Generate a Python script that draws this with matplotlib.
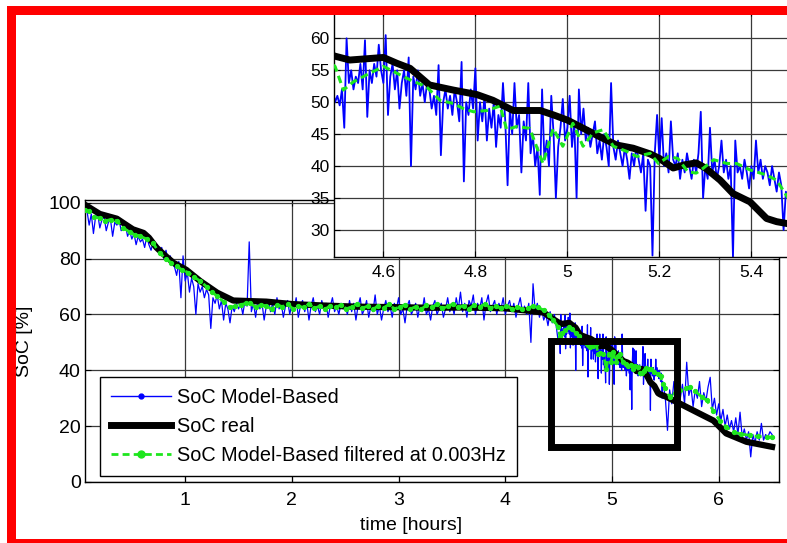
import numpy as np
import matplotlib
matplotlib.use('Agg')
import matplotlib.pyplot as plt
from matplotlib.lines import Line2D
from matplotlib.patches import Rectangle

plt.rcParams['font.family'] = ['Liberation Sans', 'DejaVu Sans']

# ---------------- data ----------------
# SoC real (black, thick)
t_real = [0.06, 0.2, 0.36, 0.45, 0.51, 0.61, 0.66, 0.73, 0.8, 0.89, 1.01, 1.14, 1.3, 1.45,
          1.6, 1.76, 2.01, 2.3, 2.6, 3.0, 3.3, 3.6, 3.9, 4.0, 4.23, 4.36, 4.45, 4.495, 4.527,
          4.564, 4.6, 4.629, 4.658, 4.70, 4.752, 4.803, 4.838, 4.882, 4.941, 4.97, 5.0, 5.035,
          5.07, 5.107, 5.143, 5.18, 5.2, 5.23, 5.255, 5.28, 5.30, 5.332, 5.36, 5.397, 5.433,
          5.455, 5.478, 5.51, 5.64, 5.82, 5.95, 6.07, 6.26, 6.5]
soc_real = [99.3, 96, 94.3, 92, 90.5, 89.2, 87.5, 84, 81.5, 78.5, 76, 72, 67.8, 65,
            64.8, 64.6, 63.7, 63.2, 62.8, 62.6, 62.4, 62.5, 62.3, 62.2, 61.3, 60.7, 58.3, 57.2, 56.6,
            56.8, 57.0, 56.1, 55.3, 52.7, 51.9, 51.2, 50.3, 48.7, 48.7, 48.0, 47.2, 45.9,
            44.6, 43.3, 42.8, 41.9, 41.2, 39.7, 40.2, 40.5, 39.7, 37.8, 35.7, 34.4, 31.8,
            31.3, 31.0, 30.5, 28, 24.5, 22, 17.4, 14.4, 12.6]

# SoC model-based filtered at 0.003 Hz (green)
t_filt = [0.06, 0.10, 0.15, 0.20, 0.25, 0.30, 0.36, 0.42, 0.48, 0.53, 0.58, 0.64, 0.70, 0.76,
          0.82, 0.87, 0.92, 0.97, 1.03, 1.08, 1.14, 1.20, 1.25, 1.30, 1.36, 1.42, 1.47, 1.52,
          1.57, 1.61, 1.66, 1.71, 1.76, 1.81, 1.86, 1.91, 1.96, 2.01, 2.06, 2.11, 2.16, 2.21,
          2.26, 2.31, 2.36, 2.41, 2.46, 2.51, 2.56, 2.61, 2.66, 2.71, 2.76, 2.81, 2.86, 2.91,
          2.96, 3.01, 3.06, 3.11, 3.16, 3.21, 3.26, 3.31, 3.36, 3.41, 3.46, 3.51, 3.56, 3.61,
          3.66, 3.71, 3.76, 3.81, 3.86, 3.91, 3.96, 4.01, 4.06, 4.11, 4.16, 4.21, 4.26, 4.31,
          4.36, 4.41, 4.45,
          4.495, 4.513, 4.535, 4.564, 4.600, 4.622, 4.658, 4.694, 4.723, 4.752, 4.774, 4.796,
          4.825, 4.854, 4.868, 4.890, 4.918, 4.947, 4.969, 4.990, 5.012, 5.034, 5.056, 5.078,
          5.100, 5.129, 5.151, 5.180, 5.198, 5.220, 5.240, 5.262, 5.280, 5.296, 5.318, 5.347,
          5.368, 5.397, 5.433, 5.455, 5.478,
          5.50, 5.54, 5.59, 5.64, 5.69, 5.73, 5.78, 5.84, 5.89, 5.95, 6.01, 6.07, 6.14, 6.21,
          6.29, 6.37, 6.45, 6.50]
soc_filt = [97.5, 96.9, 95, 94.5, 93.5, 94, 93.5, 91, 89.5, 88.5, 88, 87, 85.5, 82,
            80, 78.5, 77.3, 76, 75, 73.5, 72, 70, 68, 66.6, 64.5, 62.5, 63, 63.5,
            64, 64.2, 62.5, 63.5, 63, 62, 63.5, 62.8, 63.8, 62, 63, 62.5, 63.8, 62.2,
            63, 61.8, 63.2, 62.5, 63.5, 62, 62.8, 63.8, 62.3, 63, 61.8, 63.2, 62.4, 63.6,
            62, 62.7, 63.5, 62, 62.8, 61.8, 63.3, 62.5, 63.6, 62.2, 62.9, 63.8, 62.5, 63.2,
            62, 63.5, 62.6, 63.9, 62.3, 63, 62.2, 63.2, 62, 62.8, 61.8, 62.2, 63, 62.5,
            61.5, 59.8, 58,
            55.6, 51.9, 53.2, 54.3, 55.6, 54.8, 53.5, 52.4, 50.3, 49.8, 49.0, 48.5,
            48.7, 49.4, 45.7, 46.2, 45.9, 40.4, 45.9, 43.1, 46.7, 43.1, 45.2, 45.7,
            43.1, 42.3, 41.5, 42.0, 40.4, 41.5, 41.2, 39.1, 38.9, 39.7, 41.0, 40.4,
            40.4, 39.4, 38.6, 37.8, 35.2,
            33.5, 30.5, 32, 32.8, 33.5, 34, 32.5, 30.5, 29.2, 25.5, 22, 19.8, 17.9, 17.2,
            16.7, 16.3, 16.1, 16]

# SoC model-based (blue, noisy) -- three sampled stretches
soc_model_a = [  # 0.06 .. 4.48 h, every 0.02 h
    98, 97, 92, 96, 89, 95, 96, 91, 94, 95, 90, 93, 94, 88, 93, 92, 94, 90, 91, 92, 88, 90,
    87, 89, 85, 88, 86, 87, 84, 88, 85, 83, 86, 84, 85, 82, 84, 80, 83, 79, 81, 78,
    77, 74, 79, 66, 81, 72, 75, 68, 73, 70, 60, 71, 68, 70, 66, 69, 67, 55, 66, 64,
    67, 62, 65, 58, 64, 62, 57, 63, 61, 64,
    62, 64, 60, 65, 63, 86, 61, 64, 59, 65, 62, 64, 58, 63, 65, 61, 64, 60, 66, 62,
    64, 59, 63, 65, 60, 64, 62, 66, 59, 63, 65, 61, 64, 58, 63, 66, 61, 63, 60, 65,
    62, 64, 59, 63, 66, 61, 63, 60, 64, 62,
    63, 60, 65, 61, 64, 58, 63, 66, 60, 62, 65, 59, 63, 61, 67, 60, 63, 58, 62, 65,
    61, 63, 59, 64, 62, 66, 60, 62, 57, 63, 65, 60, 62, 64, 59, 63, 61, 66, 60, 62,
    58, 63, 65, 60, 62, 64, 59, 62, 66, 61,
    64, 60, 66, 62, 68, 61, 64, 59, 65, 63, 67, 60, 64, 62, 66, 58, 64, 67, 61, 63,
    65, 60, 64, 62, 66, 60, 63, 65, 61, 64, 59, 63, 66, 61, 63, 60, 64, 50, 71, 61,
    64, 59, 62, 58, 60, 56, 61, 57, 60, 55]
soc_model_b = [  # 4.490 .. 5.485 h, every 0.005 h
    52, 50, 51, 49.5, 52, 46, 60, 53, 55, 52,
    54, 53, 56, 52, 59.7, 47.7, 55, 53, 56, 54,
    59, 55, 53, 60.5, 48, 54, 56, 52, 55, 49,
    53, 55, 51, 57, 40, 54, 52, 55, 51, 53,
    50, 53, 52, 49, 51, 48, 55.8, 41.7, 50, 52,
    49, 51, 48, 52, 50, 47, 56.3, 37.6, 50, 48,
    52, 49, 55.3, 44, 50, 47, 51, 44, 49, 46,
    50, 43, 48, 46, 53, 47, 37, 49, 45, 53,
    46, 48, 39, 47, 44, 53, 42, 45, 40, 43,
    35.5, 52, 41, 44, 40, 51, 45, 35, 43, 46,
    50.5, 44, 46, 51, 43, 47, 35, 52, 45, 49,
    44, 46, 43, 45, 47, 42, 44, 41, 45, 43,
    40, 53, 43, 41, 44, 42, 40, 43, 41, 38,
    42, 40, 43, 41, 39, 42, 33, 41, 40, 26,
    42, 48, 41, 47.5, 40, 42, 39, 47, 41, 40,
    42, 38, 41, 39, 42, 40, 38, 41, 39, 42,
    48.5, 35, 40, 38, 46, 39, 41, 38, 40, 44,
    39, 41, 38, 40, 25.7, 44, 39, 40, 38, 41,
    39, 36.5, 40, 38, 44, 39, 41, 38, 40, 39,
    37, 40, 38, 36, 39, 37, 30, 36, 35, 34]
soc_model_c = [  # 5.50 .. 6.50 h, every 0.02 h
    30, 18.5, 33, 28, 36, 31, 38, 30, 35, 28, 42.9, 31, 34, 27, 33, 30, 36, 27, 32, 29,
    34, 37.5, 26, 30, 24, 28, 22, 26, 20, 24, 19, 22, 18, 23, 17, 25, 16, 19, 15, 18,
    9, 17, 14, 18, 15, 21, 15, 17, 16, 18, 17]
t_model = np.concatenate([np.linspace(0.06, 4.48, len(soc_model_a)),
                          np.linspace(4.49, 5.485, len(soc_model_b)),
                          np.linspace(5.50, 6.50, len(soc_model_c))])
soc_model = np.array(soc_model_a + soc_model_b + soc_model_c)

main_xticks = [1, 2, 3, 4, 5, 6]
main_yticks = [0, 20, 40, 60, 80, 100]
inset_xticks = [4.6, 4.8, 5.0, 5.2, 5.4]
inset_xticklabels = ['4.6', '4.8', '5', '5.2', '5.4']
inset_yticks = [30, 35, 40, 45, 50, 55, 60]
zoom_box = (4.428, 12.6, 5.606, 50.6)  # t0, soc0, t1, soc1

labels = ['SoC Model-Based', 'SoC real', 'SoC Model-Based filtered at 0.003Hz']

# ---------------- styling ----------------
BLUE = '#0000ff'
GREEN = '#1ee61e'
GRID = '#3a3a3a'
W, H = 787, 543
fig = plt.figure(figsize=(W / 100, H / 100), dpi=100)


def fx(px):
    return px / W


def fy(py):
    return 1 - py / H


def style_axes(a, size):
    a.grid(True, color=GRID, lw=0.9, ls='-')
    a.set_axisbelow(True)
    a.tick_params(direction='in', length=4, width=0.8, top=True, right=True,
                  labelsize=size, colors='black')
    for s in a.spines.values():
        s.set_linewidth(1.0)
        s.set_color('black')


# main axes
ax = fig.add_axes([fx(85), fy(482), fx(779) - fx(85), fy(200) - fy(482)])
ax.plot(t_model, soc_model, color=BLUE, lw=0.9, zorder=2)
ax.plot(t_real, soc_real, color='black', lw=4.5, solid_joinstyle='round', zorder=3)
ax.plot(t_filt, soc_filt, color=GREEN, lw=2, ls=(0, (2.5, 1.5)), marker='o', ms=2.8,
        mec=GREEN, mfc=GREEN, zorder=4)
ax.add_patch(Rectangle((zoom_box[0], zoom_box[1]), zoom_box[2] - zoom_box[0],
                       zoom_box[3] - zoom_box[1], fill=False, ec='black', lw=5,
                       joinstyle='miter', zorder=5))
ax.set_xlim(0.061, 6.565)
ax.set_ylim(0, 101)
ax.set_xticks(main_xticks)
ax.set_yticks(main_yticks)
style_axes(ax, 14)
ax.tick_params(axis='x', pad=7)
ax.tick_params(axis='y', pad=3)
ax.set_xlabel('time [hours]', fontsize=14)
ax.set_ylabel('SoC [%]', fontsize=14)
ax.xaxis.set_label_coords(0.47, -0.125)
ax.yaxis.set_label_coords(-0.075, 0.5)

handles = [Line2D([], [], color=BLUE, lw=1, marker='.', ms=7),
           Line2D([], [], color='black', lw=5),
           Line2D([], [], color=GREEN, lw=2, ls=(0, (2.5, 1.5)), marker='o', ms=5)]
leg = ax.legend(handles, labels, loc='upper left', numpoints=1,
                bbox_to_anchor=(fx(100), fy(377)), bbox_transform=fig.transFigure,
                borderaxespad=0, fontsize=14.3, handlelength=3.0, handletextpad=0.35,
                labelspacing=0.5, borderpad=0.55, fancybox=False, framealpha=1,
                edgecolor='black')
leg.get_frame().set_linewidth(1.0)
leg.set_zorder(6)

# inset axes
axi = fig.add_axes([fx(333.7), fy(257), fx(800) - fx(333.7), fy(10) - fy(257)])
axi.set_facecolor('white')
axi.plot(t_model, soc_model, color=BLUE, lw=1.3, zorder=2)
axi.plot(t_real, soc_real, color='black', lw=5, solid_joinstyle='round', zorder=3)
axi.plot(t_filt, soc_filt, color=GREEN, lw=2.2, ls=(0, (2.5, 1.5)), zorder=4)
axi.set_xlim(4.492, 5.5057)
axi.set_ylim(25.77, 64.43)
axi.set_xticks(inset_xticks)
axi.set_xticklabels(inset_xticklabels)
axi.set_yticks(inset_yticks)
style_axes(axi, 12.5)
axi.tick_params(axis='x', pad=6)
axi.tick_params(axis='y', pad=3)

# red frame round the picture
for (x0, y0, x1, y1) in [(7, 6, 16, 560), (7, 6, 800, 15), (7, 539, 800, 560)]:
    fig.add_artist(Rectangle((fx(x0), fy(y1)), fx(x1) - fx(x0), fy(y0) - fy(y1),
                             transform=fig.transFigure, color='#ff0000', lw=0, zorder=20))

fig.savefig('out.png', dpi=100)
